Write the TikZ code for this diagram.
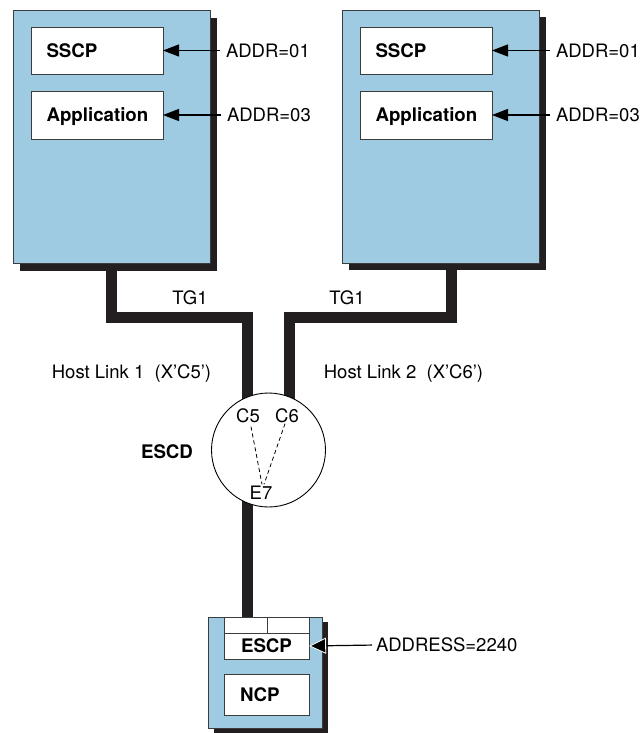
\documentclass[tikz,border=0pt]{standalone}
\usepackage{fontspec}
\setmainfont{TeX Gyre Heros}
\usetikzlibrary{arrows.meta,calc,backgrounds}
\definecolor{hostblue}{RGB}{158,203,226}
\definecolor{shadowc}{RGB}{35,31,32}
\definecolor{edgec}{RGB}{60,60,60}
\begin{document}
\begin{tikzpicture}[x=1pt,y=-1pt,
  lbl/.style={font=\fontsize{18.5}{20}\selectfont, inner sep=0pt, outer sep=0pt, text height=13.3pt, text depth=0pt},
  blbl/.style={lbl, font=\fontsize{18.7}{20}\selectfont\bfseries},
  host/.style={draw=edgec, line width=0.9pt, fill=hostblue, inner sep=0pt, outer sep=0pt},
  inbox/.style={draw=edgec, line width=0.9pt, fill=white, inner sep=0pt, outer sep=0pt},
  intext/.style={inbox, blbl, minimum width=132pt, minimum height=47pt, text width=101pt, inner xsep=15.5pt, align=left},
  link/.style={line width=11pt, draw=shadowc, line join=miter},
  addr/.style={line width=1.2pt, draw=black, shorten <=6pt, -{Triangle[length=16pt,width=12pt]}},
  dsh/.style={dashed, dash pattern=on 4pt off 3pt, line width=0.8pt}
]
\useasboundingbox (0,0) rectangle (644,733);

% hosts
\node[host, minimum width=197pt, minimum height=253pt] (host1) at (111.5,136.5) {};
\node[host, minimum width=197pt, minimum height=253pt] (host2) at (440.5,136.5) {};
\node[intext] (sscp1) at (97,50.5) {SSCP};
\node[intext, minimum height=48pt] (app1) at (97,115) {Application};
\node[intext] (sscp2) at (426,50.5) {SSCP};
\node[intext, minimum height=48pt] (app2) at (426,115) {Application};
\node[lbl, anchor=west] (a1) at (226,50.5) {ADDR=01};
\node[lbl, anchor=west] (a3) at (227,115) {ADDR=03};
\node[lbl, anchor=west] (b1) at (556,50.5) {ADDR=01};
\node[lbl, anchor=west] (b3) at (556,115) {ADDR=03};
\draw[addr] (a1.west) -- (sscp1.east);
\draw[addr] (a3.west) -- (app1.east);
\draw[addr] (b1.west) -- (sscp2.east);
\draw[addr] (b3.west) -- (app2.east);

% link labels
\node[lbl] (tg1) at (190,298) {TG1};
\node[lbl] (tg2) at (347,298) {TG1};
\node[lbl] (hl1) at (131.5,372) {Host Link 1 \ (X'C5')};
\node[lbl] (hl2) at (403.5,372) {Host Link 2 \ (X'C6')};

% ESCD
\node[draw=black, line width=0.9pt, fill=white, circle, minimum size=114pt, inner sep=0pt] (escd) at (268.5,450) {};
\node[blbl] (escdl) at (167,452) {ESCD};
\node[lbl] (c5) at (248,416) {C5};
\node[lbl] (c6) at (287,416) {C6};
\node[lbl] (e7) at (261,493) {E7};
\draw[dsh] ($(c5.south)+(3,4)$) -- ($(e7.north)+(1,-2)$);
\draw[dsh] ($(c6.south)+(-2,1)$) -- ($(e7.north)+(3,-2)$);

% NCP host
\node[host, minimum width=114pt, minimum height=111pt] (ncph) at (265,672.5) {};
\node[inbox, minimum width=43pt, minimum height=16pt] (cl) at (245.5,625) {};
\node[inbox, minimum width=42pt, minimum height=16pt] (cr) at (288,625) {};
\node[inbox, blbl, minimum width=85pt, minimum height=26pt] (escp) at (266.5,646) {ESCP};
\node[inbox, blbl, minimum width=85pt, minimum height=41pt, text width=53pt, inner xsep=16pt, align=left] (ncp) at (266.5,694.5) {NCP};
\node[lbl, anchor=west] (addrl) at (376,645) {ADDRESS=2240};
\draw[line width=1.2pt, shorten <=4pt, -{Triangle[length=17pt,width=16pt,color=white,fill=black,line width=0.8pt]}] (addrl.west) -- (escp.east);

% background: links and shadows
\coordinate (j1) at (247.5,317);
\coordinate (j2) at (289,317);
\coordinate (j3) at (247.5,450);
\begin{scope}[on background layer]
  \draw[link] (host1.south) |- (j1) -- (j1 |- escd.center);
  \draw[link] ([xshift=10.5pt]host2.south) |- (j2) -- (j2 |- escd.center);
  \draw[link] (j3) -- (j3 |- ncph.north);
  \fill[fill=shadowc] ($(host1.south west)+(7,8)$) rectangle ($(host1.north east)+(7,8)$);
  \fill[fill=shadowc] ($(host2.south west)+(7,7)$) rectangle ($(host2.north east)+(7,7)$);
  \fill[fill=shadowc] ($(ncph.south west)+(6,5)$) rectangle ($(ncph.north east)+(6,5)$);
\end{scope}
\end{tikzpicture}
\end{document}
